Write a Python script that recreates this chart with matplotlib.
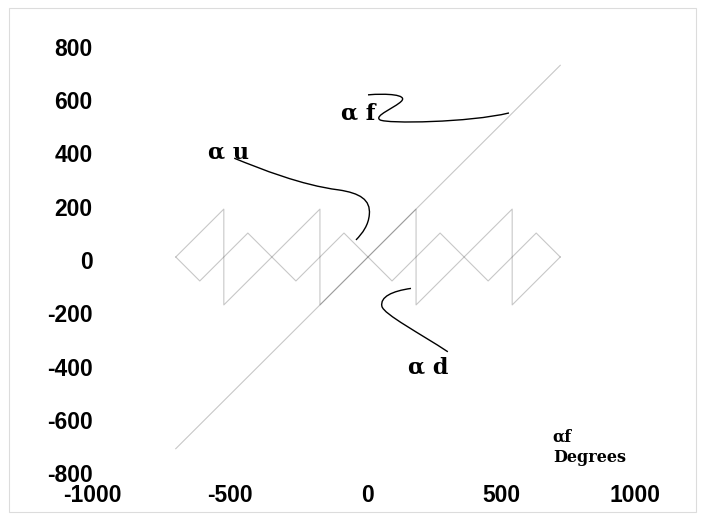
import matplotlib
matplotlib.use("Agg")
import matplotlib.pyplot as plt
from matplotlib.path import Path
from matplotlib.patches import PathPatch, Rectangle
from matplotlib.transforms import ScaledTranslation

plt.rcParams['axes.unicode_minus'] = False

# straight line alpha f = alpha
diag_x = [-720, 720]
diag_y = [-720, 720]

# sawtooth (alpha u) vertices
saw_x = [-720, -540, -540, -180, -180, 180, 180, 540, 540, 720]
saw_y = [0, 180, -180, 180, -180, 180, -180, 180, -180, 0]

# triangle wave (alpha d) vertices
tri_x = [-720, -630, -450, -270, -90, 90, 270, 450, 630, 720]
tri_y = [0, -90, 90, -90, 90, -90, 90, -90, 90, 0]

xticks = [-1000, -500, 0, 500, 1000]
yticks = [-800, -600, -400, -200, 0, 200, 400, 600, 800]

# leader curves (bezier control points, data units)
lead_f = [(0, 609), (70, 615), (150, 610), (125, 585),
          (100, 560), (20, 530), (45, 515),
          (70, 500), (380, 505), (528, 541)]
lead_u = [(-501, 371), (-400, 330), (-250, 270), (-110, 252),
          (-30, 240), (10, 215), (5, 160),
          (2, 120), (-20, 90), (-45, 64)]
lead_d = [(161, -118), (90, -128), (45, -150), (52, -185),
          (58, -215), (200, -290), (299, -356)]

labels = [("α f", -101, 518), ("α u", -600, 371), ("α d", 149, -437)]

fig = plt.figure(figsize=(7.02, 5.2), dpi=100)
fig.patches.append(Rectangle((9 / 702, 8 / 520), 687 / 702, 504 / 520,
                             transform=fig.transFigure, fill=False,
                             edgecolor='#dcdcdc', linewidth=0.8))
ax = fig.add_axes([101 / 702, 50 / 520, 534 / 702, 426 / 520])

gray = dict(color='black', alpha=0.22, linewidth=0.8)
ax.plot(diag_x, diag_y, **gray)
ax.plot(saw_x, saw_y, **gray)
ax.plot(tri_x, tri_y, **gray)


def bezier(pts):
    codes = [Path.MOVETO] + [Path.CURVE4] * (len(pts) - 1)
    return PathPatch(Path(pts, codes), fill=False, edgecolor='black', linewidth=1.0)


for pts in (lead_f, lead_u, lead_d):
    ax.add_patch(bezier(pts))

for txt, x, y in labels:
    ax.text(x, y, txt, family='DejaVu Serif', fontweight='bold', fontsize=16,
            ha='left', va='baseline')

ax.text(692, -692, "αf", family='DejaVu Serif', fontweight='bold', fontsize=11.5,
        ha='left', va='baseline')
ax.text(692, -771, "Degrees", family='DejaVu Serif', fontweight='bold', fontsize=11.5,
        ha='left', va='baseline')

ax.set_xlim(-1000, 1000)
ax.set_ylim(-800, 800)
ax.set_xticks(xticks)
ax.set_yticks(yticks)
ax.set_xticklabels([str(v) for v in xticks])
ax.set_yticklabels([str(v) for v in yticks])
for lab in ax.get_xticklabels() + ax.get_yticklabels():
    lab.set_fontfamily('Liberation Sans')
    lab.set_fontweight('bold')
    lab.set_fontsize(16.5)
ax.tick_params(length=0)
ax.tick_params(axis='x', pad=10)
ax.tick_params(axis='y', pad=6)
for s in ax.spines.values():
    s.set_visible(False)
ax.patch.set_visible(False)

# small nudges of tick labels to match the reference placement
ydown = ScaledTranslation(0, -0.03, fig.dpi_scale_trans)
for lab in ax.get_yticklabels():
    lab.set_transform(lab.get_transform() + ydown)
xshift = {-1000: -0.09, -500: -0.05}
for v, lab in zip(xticks, ax.get_xticklabels()):
    if v in xshift:
        lab.set_transform(lab.get_transform() +
                          ScaledTranslation(xshift[v], 0, fig.dpi_scale_trans))

fig.savefig("out.png", dpi=100)
